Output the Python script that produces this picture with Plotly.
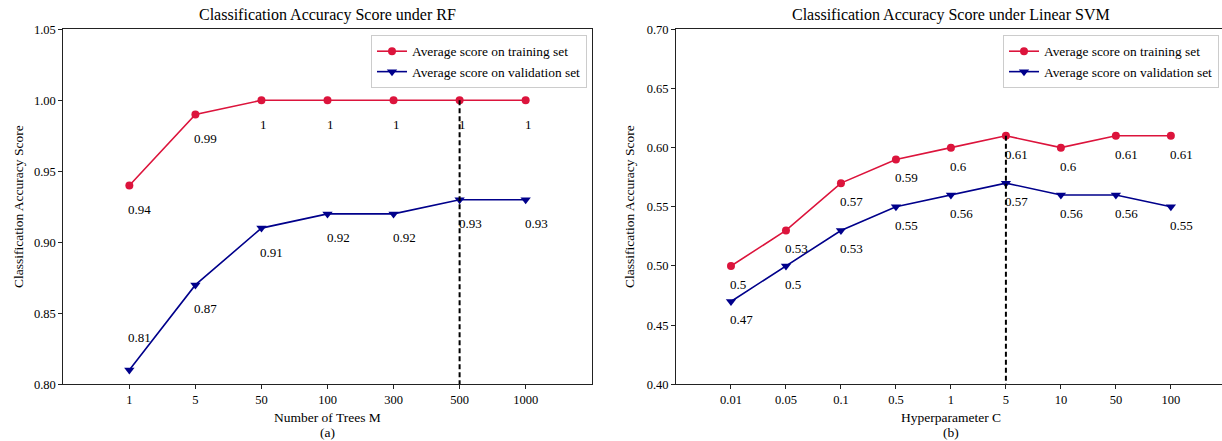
import plotly.graph_objects as go

# ---- data ----
rf_trees = ["1", "5", "50", "100", "300", "500", "1000"]
rf_train = [0.94, 0.99, 1.00, 1.00, 1.00, 1.00, 1.00]
rf_valid = [0.81, 0.87, 0.91, 0.92, 0.92, 0.93, 0.93]

svm_c = ["0.01", "0.05", "0.1", "0.5", "1", "5", "10", "50", "100"]
svm_train = [0.50, 0.53, 0.57, 0.59, 0.60, 0.61, 0.60, 0.61, 0.61]
svm_valid = [0.47, 0.50, 0.53, 0.55, 0.56, 0.57, 0.56, 0.56, 0.55]

W, H = 1222, 441
FONT = "Liberation Serif, Times New Roman, serif"
RED = "#DC143C"
BLUE = "#00008B"
AXC = "#222222"

fig = go.Figure()


def fmt(v):
    return ("%.2f" % v).rstrip("0").rstrip(".")


def panel(xs, train, valid, xa, ya, legend, ymin, label_dy, label_up_first):
    fig.add_trace(go.Scatter(
        x=xs, y=train, mode="lines+markers", name="Average score on training set",
        line=dict(color=RED, width=1.6), marker=dict(symbol="circle", size=8, color=RED),
        xaxis=xa, yaxis=ya, legend=legend))
    fig.add_trace(go.Scatter(
        x=xs, y=valid, mode="lines+markers", name="Average score on validation set",
        line=dict(color=BLUE, width=1.6), marker=dict(symbol="triangle-down", size=9, color=BLUE),
        xaxis=xa, yaxis=ya, legend=legend))
    best = valid.index(max(valid))
    fig.add_trace(go.Scatter(
        x=[xs[best], xs[best]], y=[train[best], ymin], mode="lines",
        line=dict(color="black", width=2, dash="5px,3px"), showlegend=False,
        xaxis=xa, yaxis=ya, hoverinfo="skip"))
    for i, v in enumerate(train):
        fig.add_annotation(x=i, y=v, xref=xa, yref=ya, text=fmt(v), showarrow=False,
                           xanchor="left", yanchor="middle", yshift=-label_dy, xshift=-3,
                           font=dict(family=FONT, size=13, color="black"))
    for i, v in enumerate(valid):
        dy = -label_dy
        if label_up_first and i == 0:
            dy = 33
        fig.add_annotation(x=i, y=v, xref=xa, yref=ya, text=fmt(v), showarrow=False,
                           xanchor="left", yanchor="middle", yshift=dy, xshift=-3,
                           font=dict(family=FONT, size=13, color="black"))


panel(rf_trees, rf_train, rf_valid, "x", "y", "legend", 0.80, 24, True)
panel(svm_c, svm_train, svm_valid, "x2", "y2", "legend2", 0.40, 18.5, False)

y_top = 1 - 29.3 / H
y_bot = 1 - 384.3 / H

axis_common = dict(showline=True, linecolor=AXC, linewidth=1, mirror=True, ticks="outside",
                   ticklen=4, tickcolor=AXC, showgrid=False, zeroline=False, automargin=False,
                   tickfont=dict(family=FONT, size=12.5, color="black"))

leg_common = dict(yanchor="top", xanchor="right", bgcolor="white", bordercolor="#cccccc",
                  borderwidth=1, font=dict(family=FONT, size=13.4, color="black"),
                  tracegroupgap=0, itemwidth=30)

fig.update_layout(
    width=W, height=H, margin=dict(l=0, r=0, t=0, b=0, autoexpand=False),
    font=dict(family=FONT, color="black"),
    paper_bgcolor="white", plot_bgcolor="white",
    xaxis=dict(domain=[63.3 / W, 591.7 / W], type="category", range=[-1, 7], anchor="y", **axis_common),
    yaxis=dict(domain=[y_bot, y_top], range=[0.80, 1.05], dtick=0.05, tickformat=".2f", anchor="x", **axis_common),
    xaxis2=dict(domain=[676 / W, 1.0], type="category", range=[-1, 8.93], anchor="y2", **axis_common),
    yaxis2=dict(domain=[y_bot, y_top], range=[0.40, 0.70], dtick=0.05, tickformat=".2f", anchor="x2", **axis_common),
    legend=dict(x=587 / W, y=1 - 35 / H, **leg_common),
    legend2=dict(x=1219 / W, y=1 - 35 / H, **leg_common),
    showlegend=True,
)

texts = [
    ("Classification Accuracy Score under RF", (63.3 + 591.7) / 2, 15, 16, 0),
    ("Classification Accuracy Score under Linear SVM", (676 + 1225.8) / 2, 15, 16, 0),
    ("Number of Trees M", (63.3 + 591.7) / 2, 417, 13.5, 0),
    ("(a)", (63.3 + 591.7) / 2, 432, 13.5, 0),
    ("Hyperparameter C", (676 + 1225.8) / 2, 417, 13.5, 0),
    ("(b)", (676 + 1225.8) / 2, 432, 13.5, 0),
    ("Classification Accuracy Score", 18, 207, 13.5, -90),
    ("Classification Accuracy Score", 629, 207, 13.5, -90),
]
for t, px, py, fs, ang in texts:
    fig.add_annotation(x=px / W, y=1 - py / H, xref="paper", yref="paper", text=t, showarrow=False,
                       xanchor="center", yanchor="middle", textangle=ang,
                       font=dict(family=FONT, size=fs, color="black"))

fig.write_html("out.html", config={"displayModeBar": False},
               post_script="document.body.style.margin='0';document.body.style.overflow='hidden';")
